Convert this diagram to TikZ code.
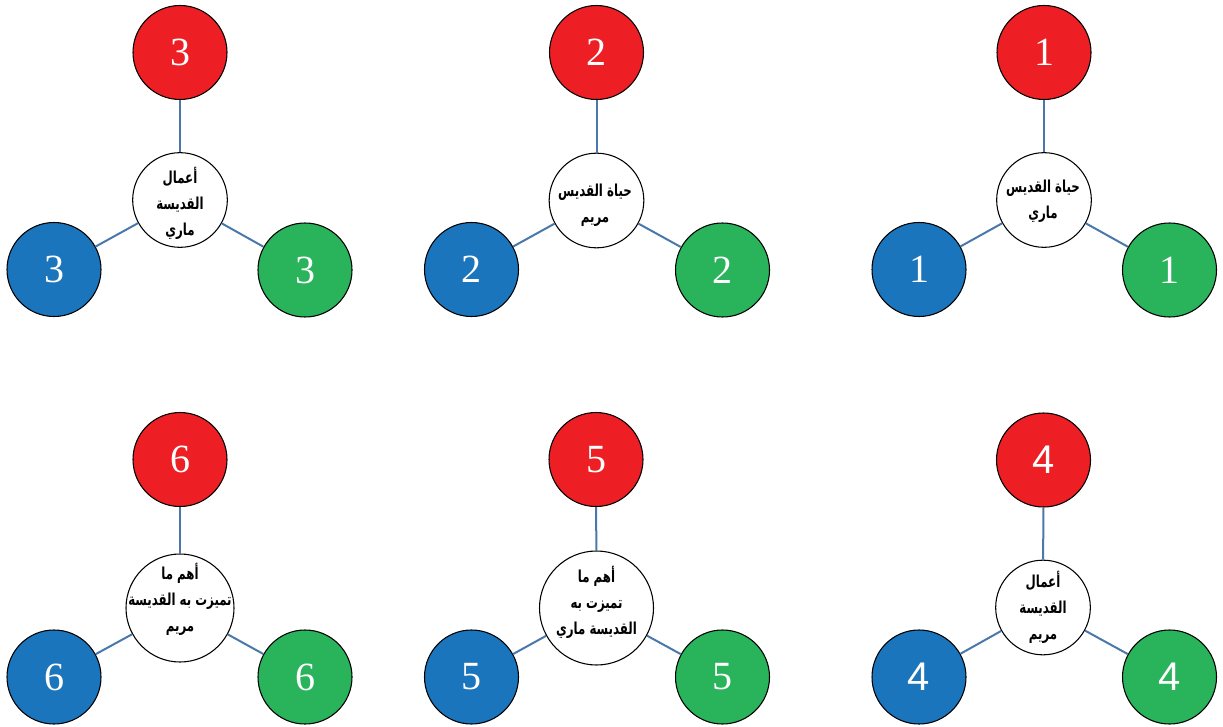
\documentclass[tikz,border=0pt]{standalone}
\usepackage{fontspec}
\newfontfamily\arabicfont[Script=Arabic]{DejaVu Sans}
\newfontfamily\numserif{Liberation Serif}
\newfontfamily\numsans{Liberation Sans}
\TeXXeTstate=1
\newcommand\artxt[1]{\scalebox{0.93}[1.3]{\begin{tabular}{@{}c@{}}#1\end{tabular}}}
\definecolor{cred}{HTML}{ED1F24}
\definecolor{cblue}{HTML}{1B75BC}
\definecolor{cgreen}{HTML}{29B35B}
\definecolor{clink}{HTML}{4A78AA}
\begin{document}
\begin{tikzpicture}[x=0.75pt,y=-0.75pt,
  colc/.style={circle, draw=black, line width=0.8pt, minimum size=70.5pt, inner sep=0pt, text=white, font=\numserif\fontsize{30}{30}\selectfont},
  redc/.style={colc, fill=cred},
  bluec/.style={colc, fill=cblue},
  greenc/.style={colc, fill=cgreen},
  ctr/.style={circle, draw=black, line width=0.8pt, fill=white, inner sep=0pt, minimum size=71pt},
  ctrtext/.style={inner sep=0pt, font=\arabicfont\bfseries\fontsize{9.5}{15}\selectfont},
  link/.style={draw=clink, line width=1.5pt}]
\useasboundingbox (0,0) rectangle (1223,727);
\fill[white] (0,0) rectangle (1223,727);

% Group 3 (top left)
\node[ctr] (w3) at (180,200) {};
\node[ctrtext] (t3) at (180,204) {\artxt{\beginR أعمال\endR\\\beginR القديسة\endR\\\beginR ماري\endR}};
\node[redc] (r3) at (180,52.5) {3};
\node[bluec] (b3) at (54,269.5) {3};
\node[greenc] (g3) at (305,270) {3};
\draw[link] (w3) -- (r3);
\draw[link] (w3) -- (b3);
\draw[link] (w3) -- (g3);

% Group 2 (top middle)
\node[ctr] (w2) at (596.5,200.5) {};
\node[ctrtext] (t2) at (595,204) {\artxt{\beginR حياة القديس\endR\\\beginR مريم\endR}};
\node[redc] (r2) at (596.5,52.5) {2};
\node[bluec] (b2) at (471.5,269.5) {2};
\node[greenc] (g2) at (722.5,270) {2};
\draw[link] (w2) -- (r2);
\draw[link] (w2) -- (b2);
\draw[link] (w2) -- (g2);

% Group 1 (top right)
\node[ctr] (w1) at (1044,200) {};
\node[ctrtext] (t1) at (1043,200) {\artxt{\beginR حياة القديس\endR\\\beginR ماري\endR}};
\node[redc] (r1) at (1044,52.5) {1};
\node[bluec] (b1) at (919,269.5) {1};
\node[greenc] (g1) at (1169.5,270) {1};
\draw[link] (w1) -- (r1);
\draw[link] (w1) -- (b1);
\draw[link] (w1) -- (g1);

% Group 6 (bottom left)
\node[ctr, minimum size=81pt] (w6) at (180,608) {};
\node[ctrtext] (t6) at (180,600) {\artxt{\beginR أهم ما\endR\\\beginR تميزت به القديسة\endR\\\beginR مريم\endR}};
\node[redc] (r6) at (180,459.5) {6};
\node[bluec] (b6) at (54,677) {6};
\node[greenc] (g6) at (305,677) {6};
\draw[link] (w6) -- (r6);
\draw[link] (w6) -- (b6);
\draw[link] (w6) -- (g6);

% Group 5 (bottom middle)
\node[ctr, minimum size=85.5pt] (w5) at (596.5,608) {};
\node[ctrtext] (t5) at (596.5,603) {\artxt{\beginR أهم ما\endR\\\beginR تميزت به\endR\\\beginR القديسة ماري\endR}};
\node[redc] (r5) at (596,459.5) {5};
\node[bluec] (b5) at (471.5,677) {5};
\node[greenc] (g5) at (722.5,677) {5};
\draw[link] (w5) -- (r5);
\draw[link] (w5) -- (b5);
\draw[link] (w5) -- (g5);

% Group 4 (bottom right)
\node[ctr] (w4) at (1043,607.5) {};
\node[ctrtext] (t4) at (1043,608) {\artxt{\beginR أعمال\endR\\\beginR القديسة\endR\\\beginR مريم\endR}};
\node[redc, font=\numsans\fontsize{30}{30}\selectfont] (r4) at (1043.5,460) {4};
\node[bluec, font=\numsans\fontsize{30}{30}\selectfont] (b4) at (919,677) {4};
\node[greenc, font=\numsans\fontsize{30}{30}\selectfont] (g4) at (1169.5,677) {4};
\draw[link] (w4) -- (r4);
\draw[link] (w4) -- (b4);
\draw[link] (w4) -- (g4);
\end{tikzpicture}
\end{document}
